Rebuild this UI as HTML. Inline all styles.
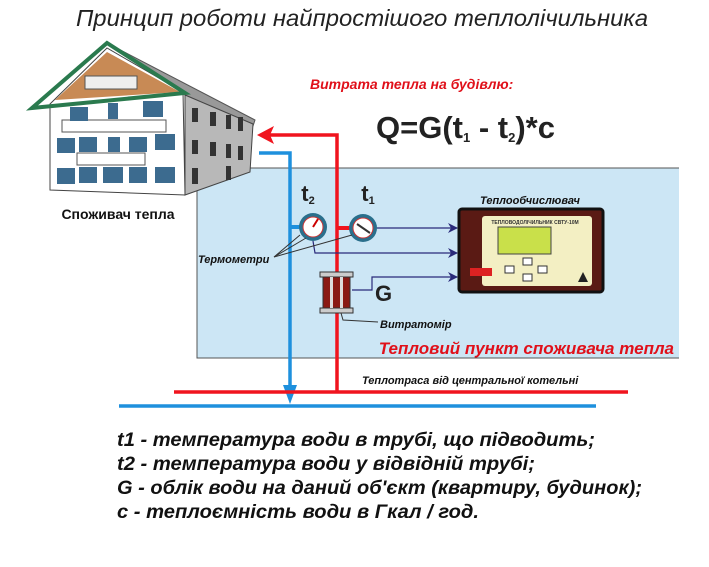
<!DOCTYPE html>
<html><head><meta charset="utf-8"><style>
html,body{margin:0;padding:0;background:#fff}
body{width:709px;height:567px;position:relative;overflow:hidden;font-family:"Liberation Sans",sans-serif}
</style></head><body>
<svg width="709" height="567" xmlns="http://www.w3.org/2000/svg" style="position:absolute;left:0;top:0">
<defs>
<marker id="ar" markerWidth="10" markerHeight="10" refX="9" refY="5" orient="auto" markerUnits="userSpaceOnUse"><path d="M0,0 L10,5 L0,10 L3,5 z" fill="#2a2a7a"/></marker>
</defs>
<text x="362" y="26" text-anchor="middle" font-size="23" font-style="italic" fill="#222" textLength="572" lengthAdjust="spacingAndGlyphs">Принцип роботи найпростішого теплолічильника</text>
<!-- panel -->
<rect x="197" y="168" width="482" height="190" fill="#cce6f5"/>
<polyline points="197,168 679,168" stroke="#555" fill="none"/>
<polyline points="197,168 197,358 679,358" stroke="#555" fill="none"/>
<!-- building -->
<polygon points="107,43 255,120 253,126 185,95" fill="#999" stroke="#555"/>
<polygon points="185,95 253,124 250,172 185,195" fill="#b8b8b8" stroke="#444"/>
<polygon points="50,104 107,48 183,92 185,195 50,190" fill="#fff" stroke="#444"/>
<polygon points="55,100 107,52 180,92 55,100" fill="#c88a55"/>
<polygon points="32,108 107,43 185,93" fill="none" stroke="#2a7a4e" stroke-width="4"/>
<rect x="85" y="76" width="52" height="13" fill="#eee" stroke="#555"/>
<rect x="62" y="120" width="104" height="12" fill="#fff" stroke="#555"/>
<rect x="77" y="153" width="68" height="12" fill="#fff" stroke="#555"/>
<g fill="#3c6b8f">
<rect x="70" y="107" width="18" height="14"/><rect x="108" y="103" width="10" height="16"/><rect x="143" y="101" width="20" height="16"/>
<rect x="57" y="138" width="18" height="15"/><rect x="79" y="137" width="18" height="15"/><rect x="108" y="137" width="12" height="15"/><rect x="129" y="137" width="18" height="15"/><rect x="155" y="134" width="20" height="16"/>
<rect x="57" y="168" width="18" height="16"/><rect x="79" y="167" width="18" height="16"/><rect x="103" y="167" width="20" height="16"/><rect x="129" y="167" width="18" height="16"/><rect x="155" y="167" width="20" height="16"/>
</g>
<g fill="#333"><rect x="192" y="108" width="6" height="14"/><rect x="210" y="112" width="6" height="14"/><rect x="226" y="115" width="5" height="14"/><rect x="238" y="117" width="5" height="14"/>
<rect x="192" y="140" width="6" height="14"/><rect x="210" y="142" width="6" height="14"/><rect x="226" y="144" width="5" height="14"/><rect x="238" y="146" width="5" height="14"/><rect x="192" y="168" width="6" height="16"/><rect x="226" y="166" width="5" height="14"/></g>
<text x="118" y="219" text-anchor="middle" font-size="14" font-weight="bold" fill="#111">Споживач тепла</text>
<!-- heading formula -->
<text x="310" y="89" font-size="14" font-weight="bold" font-style="italic" fill="#e0101a">Витрата тепла на будівлю:</text>
<text x="376" y="138" font-size="31" font-weight="bold" fill="#222">Q=G(t<tspan font-size="13" dy="4">1</tspan><tspan dy="-4"> - t</tspan><tspan font-size="13" dy="4">2</tspan><tspan dy="-4">)*c</tspan></text>
<!-- pipes -->
<polyline points="337,392 337,135 268,135" fill="none" stroke="#f0141e" stroke-width="3.5"/>
<polygon points="257,135 274,126 270,135 274,144" fill="#f0141e"/>
<polyline points="259,153 290,153 290,390" fill="none" stroke="#1e90dd" stroke-width="3.5"/>
<polygon points="283,385 297,385 290,404" fill="#1e90dd"/>
<line x1="174" y1="392" x2="628" y2="392" stroke="#f0141e" stroke-width="3.5"/>
<line x1="119" y1="406" x2="596" y2="406" stroke="#1e90dd" stroke-width="3.5"/>
<text x="362" y="384" font-size="11" font-weight="bold" font-style="italic" fill="#111">Теплотраса від центральної котельні</text>
<!-- gauge stubs -->
<line x1="290" y1="227" x2="300" y2="227" stroke="#1e90dd" stroke-width="4"/>
<line x1="337" y1="228" x2="350" y2="228" stroke="#f0141e" stroke-width="4"/>
<!-- signal lines -->
<line x1="377" y1="228" x2="457" y2="228" stroke="#2a2a7a" stroke-width="1.2" marker-end="url(#ar)"/>
<polyline points="313,241 315,253 457,253" fill="none" stroke="#2a2a7a" stroke-width="1.2" marker-end="url(#ar)"/>
<polyline points="352,290 372,290 372,277 457,277" fill="none" stroke="#2a2a7a" stroke-width="1.2" marker-end="url(#ar)"/>
<!-- gauges -->
<g><circle cx="313" cy="227" r="14" fill="#2a6f8c"/><circle cx="313" cy="227" r="10" fill="#fff" stroke="#c33"/><line x1="313" y1="227" x2="318" y2="219" stroke="#c00" stroke-width="2"/></g>
<g><circle cx="363" cy="228" r="14" fill="#2a6f8c"/><circle cx="363" cy="228" r="10" fill="#fff" stroke="#c33"/><line x1="357" y1="224" x2="370" y2="233" stroke="#333" stroke-width="2"/></g>
<text x="308" y="201" text-anchor="middle" font-size="22" font-weight="bold" fill="#222">t<tspan font-size="11" dy="3">2</tspan></text>
<text x="368" y="201" text-anchor="middle" font-size="22" font-weight="bold" fill="#222">t<tspan font-size="11" dy="3">1</tspan></text>
<polyline points="300,235 274,257 306,238" fill="none" stroke="#333" stroke-width="1"/>
<line x1="274" y1="257" x2="352" y2="235" stroke="#333" stroke-width="1"/>
<text x="198" y="263" font-size="11" font-weight="bold" font-style="italic" fill="#111">Термометри</text>
<!-- flow meter -->
<rect x="320" y="272" width="33" height="5" fill="#ccc" stroke="#333"/>
<rect x="320" y="308" width="33" height="5" fill="#ccc" stroke="#333"/>
<rect x="323" y="277" width="27" height="31" fill="#8a1a14" stroke="#333"/>
<rect x="330" y="277" width="3" height="31" fill="#ddd"/><rect x="340" y="277" width="3" height="31" fill="#ddd"/>
<polyline points="341,313 343,320 378,322" fill="none" stroke="#333" stroke-width="1"/>
<text x="380" y="328" font-size="11" font-weight="bold" font-style="italic" fill="#111">Витратомір</text>
<text x="375" y="301" font-size="22" font-weight="bold" fill="#222">G</text>
<!-- device -->
<text x="530" y="204" text-anchor="middle" font-size="11" font-weight="bold" font-style="italic" fill="#111">Теплообчислювач</text>
<rect x="459" y="209" width="144" height="83" rx="3" fill="#5a1a14" stroke="#111" stroke-width="3"/>
<rect x="482" y="216" width="110" height="70" rx="3" fill="#f3efc3"/>
<text x="535" y="224" text-anchor="middle" font-size="5" font-weight="bold" fill="#333">ТЕПЛОВОДОЛІЧИЛЬНИК СВТУ-10М</text>
<rect x="498" y="227" width="53" height="27" fill="#c9e04a" stroke="#444"/>
<rect x="523" y="258" width="9" height="7" fill="#fff" stroke="#333"/>
<rect x="505" y="266" width="9" height="7" fill="#fff" stroke="#333"/>
<rect x="538" y="266" width="9" height="7" fill="#fff" stroke="#333"/>
<rect x="523" y="274" width="9" height="7" fill="#fff" stroke="#333"/>
<rect x="470" y="268" width="22" height="8" fill="#d22"/>
<polygon points="583,272 588,282 578,282" fill="#222"/>
<text x="674" y="354" text-anchor="end" font-size="17" font-weight="bold" font-style="italic" fill="#e0101a">Тепловий пункт споживача тепла</text>
<!-- legend -->
<g font-size="19" font-weight="bold" font-style="italic" fill="#111">
<text x="117" y="446" textLength="478" lengthAdjust="spacingAndGlyphs">t1 - температура води в трубі, що підводить;</text>
<text x="117" y="470" textLength="418" lengthAdjust="spacingAndGlyphs">t2 - температура води у відвідній трубі;</text>
<text x="117" y="494" textLength="525" lengthAdjust="spacingAndGlyphs">G - облік води на даний об'єкт (квартиру, будинок);</text>
<text x="117" y="518" textLength="362" lengthAdjust="spacingAndGlyphs">с - теплоємність води в Гкал / год.</text>
</g>
</svg>
</body></html>
